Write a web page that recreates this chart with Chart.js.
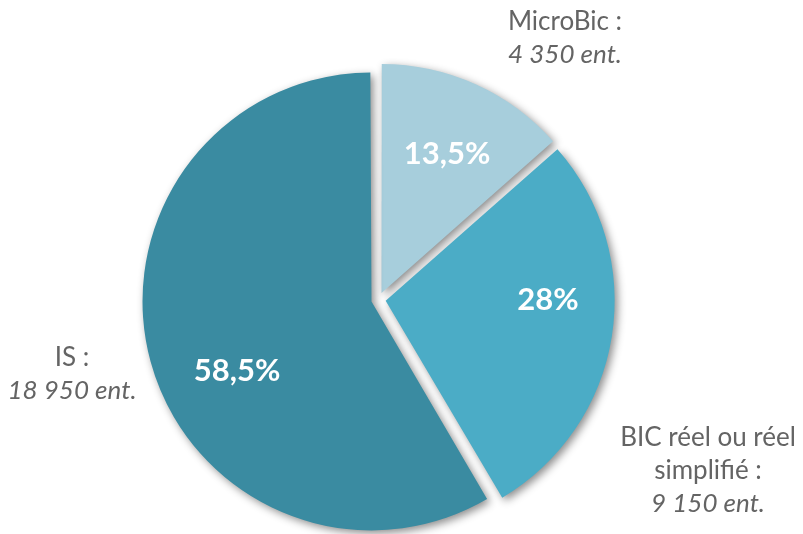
<!DOCTYPE html>
<html>
<head>
<meta charset="utf-8">
<script src="https://cdn.jsdelivr.net/npm/chart.js@4/dist/chart.umd.min.js"></script>
<style>
  html, body { margin: 0; padding: 0; background: #ffffff; }
  #wrap { width: 803px; height: 534px; position: relative; }
</style>
</head>
<body>
<div id="wrap"><canvas id="c" width="803" height="534"></canvas></div>
<script>
// ---- data ----
const categories = ['MicroBic', 'BIC réel ou réel simplifié', 'IS'];
const counts = [4350, 9150, 18950];
const shares = [13.5, 28, 58.5];
const shareLabels = ['13,5%', '28%', '58,5%'];
const nameLines = [['MicroBic :'], ['BIC réel ou réel', 'simplifié :'], ['IS :']];
const countLabels = ['4 350 ent.', '9 150 ent.', '18 950 ent.'];

// ---- style ----
const colors = ['#A7CEDC', '#4BACC6', '#3A8BA1'];
const RADIUS = 229;
const OFFSET = 29;
const textColor = '#646464';
const FONT = 'Lato, "Open Sans", sans-serif';
// label anchor positions (text layout)
const shareLabelPos = [[447, 154], [548, 300], [237, 371]];
const outerLabelPos = [[565, 22], [708, 438], [72, 358]];
const lineStep = 33;

const radiusFix = {
  id: 'radiusFix',
  afterDatasetsUpdate(chart) {
    const meta = chart.getDatasetMeta(0);
    meta.data.forEach((arc) => {
      const off = (arc.options && arc.options.offset) || 0;
      const fix = 1 - Math.sin(Math.min(Math.PI, arc.circumference || 0));
      arc.outerRadius = RADIUS - (off / 4) * fix;
    });
  }
};

const shadow = {
  id: 'shadow',
  beforeDatasetsDraw(chart) {
    const ctx = chart.ctx;
    ctx.save();
    ctx.shadowColor = 'rgba(0,0,0,0.45)';
    ctx.shadowBlur = 8;
    ctx.shadowOffsetX = 3;
    ctx.shadowOffsetY = 3;
  },
  afterDatasetsDraw(chart) {
    chart.ctx.restore();
  }
};

const labels = {
  id: 'labels',
  afterDraw(chart) {
    const ctx = chart.ctx;
    ctx.save();
    ctx.textAlign = 'center';
    ctx.textBaseline = 'middle';
    // share labels
    ctx.fillStyle = '#ffffff';
    ctx.font = 'bold 31px ' + FONT;
    shareLabels.forEach((t, i) => {
      ctx.fillText(t, shareLabelPos[i][0], shareLabelPos[i][1]);
    });
    // outer labels
    ctx.fillStyle = textColor;
    nameLines.forEach((lines, i) => {
      const [x, y] = outerLabelPos[i];
      ctx.font = '26px ' + FONT;
      lines.forEach((ln, k) => ctx.fillText(ln, x, y + k * lineStep));
      ctx.font = 'italic 26px ' + FONT;
      ctx.fillText(countLabels[i], x, y + lines.length * lineStep);
    });
    ctx.restore();
  }
};

function build() {
  new Chart(document.getElementById('c'), {
    type: 'pie',
    data: {
      labels: categories,
      datasets: [{
        data: shares,
        backgroundColor: colors,
        borderWidth: 0,
        offset: OFFSET,
        radius: RADIUS
      }]
    },
    options: {
      responsive: false,
      animation: false,
      events: [],
      layout: { padding: { left: 0, right: 46, top: 65, bottom: 0 } },
      plugins: { legend: { display: false }, tooltip: { enabled: false } }
    },
    plugins: [radiusFix, shadow, labels]
  });
}

Promise.all([
  document.fonts.load('26px Lato'),
  document.fonts.load('italic 26px Lato'),
  document.fonts.load('bold 31px Lato')
]).then(build, build);
</script>
</body>
</html>
